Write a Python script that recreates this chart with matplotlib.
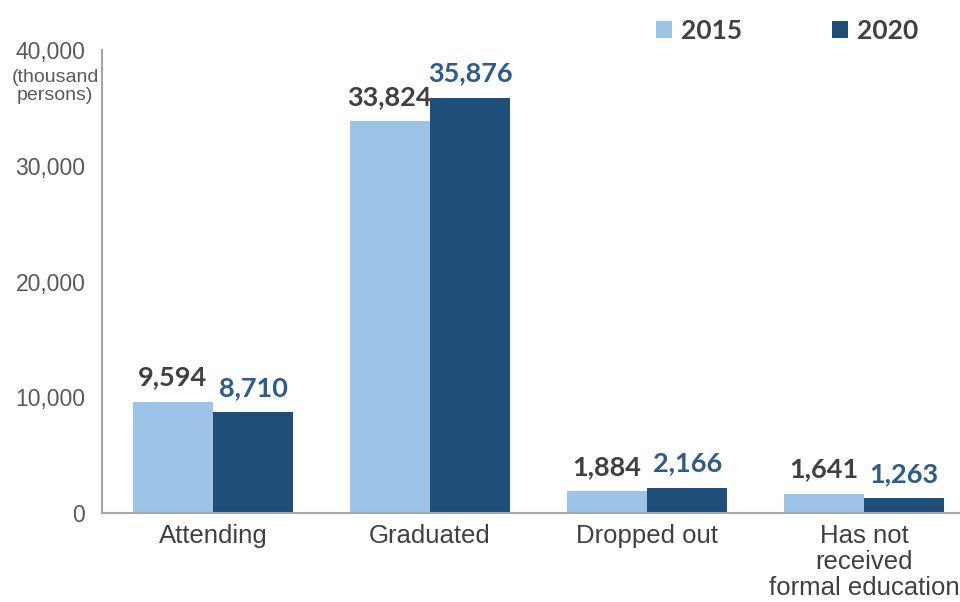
import numpy as np
import matplotlib.pyplot as plt
from matplotlib.ticker import FuncFormatter

categories = ["Attending", "Graduated", "Dropped out", "Has not\nreceived\nformal education"]
years = ["2015", "2020"]
vals_2015 = [9594, 33824, 1884, 1641]
vals_2020 = [8710, 35876, 2166, 1263]
yticks = [0, 10000, 20000, 30000, 40000]

c15 = "#9DC3E6"
c20 = "#1F4E79"
grey = "#595959"

fig = plt.figure(figsize=(9.6, 6.02), dpi=100)
ax = fig.add_axes([102/960, 1-513/602, (960-102)/960, (513-50)/602])

x = np.arange(len(categories))
w = 0.37
b1 = ax.bar(x - w/2, vals_2015, w, color=c15, label=years[0])
b2 = ax.bar(x + w/2, vals_2020, w, color=c20, label=years[1])

for bars, col in ((b1, "#404040"), (b2, "#2E5C8A")):
    for r in bars:
        h = r.get_height()
        ax.annotate(f"{h:,.0f}", (r.get_x() + r.get_width()/2, h), xytext=(0, 9),
                    textcoords="offset points", ha="center", va="bottom",
                    fontsize=19.5, fontweight="bold", color=col, family="Lato")

ax.set_xlim(-0.5115, 3.442)
ax.set_ylim(0, 40000)
ax.set_yticks(yticks)
ax.yaxis.set_major_formatter(FuncFormatter(lambda v, p: f"{v:,.0f}"))
ax.set_xticks(x)
ax.set_xticklabels(categories, fontsize=18.5, color="#404040", family="Liberation Sans", linespacing=1.1)
ax.tick_params(axis="y", length=0, pad=12, labelsize=16.5, labelcolor=grey)
ax.tick_params(axis="x", length=0, pad=8)
for lab in ax.get_yticklabels():
    lab.set_family("Liberation Sans")

for s in ("top", "right"):
    ax.spines[s].set_visible(False)
for s in ("left", "bottom"):
    ax.spines[s].set_color("#A6A6A6")
    ax.spines[s].set_linewidth(1.5)

fig.text(55/960, 1-69/602, "(thousand\npersons)", ha="center", va="top",
         fontsize=14, color=grey, family="Liberation Sans", linespacing=1.1)

fig.legend(handles=[b1, b2], loc="upper left", bbox_to_anchor=(632/960, 1.008), ncol=2,
           frameon=False, handlelength=0.6, handleheight=0.6, handletextpad=0.35,
           columnspacing=3.4, prop={"family": "Lato", "weight": "bold", "size": 19},
           labelcolor="#404040")

fig.savefig("out.png", dpi=100)
